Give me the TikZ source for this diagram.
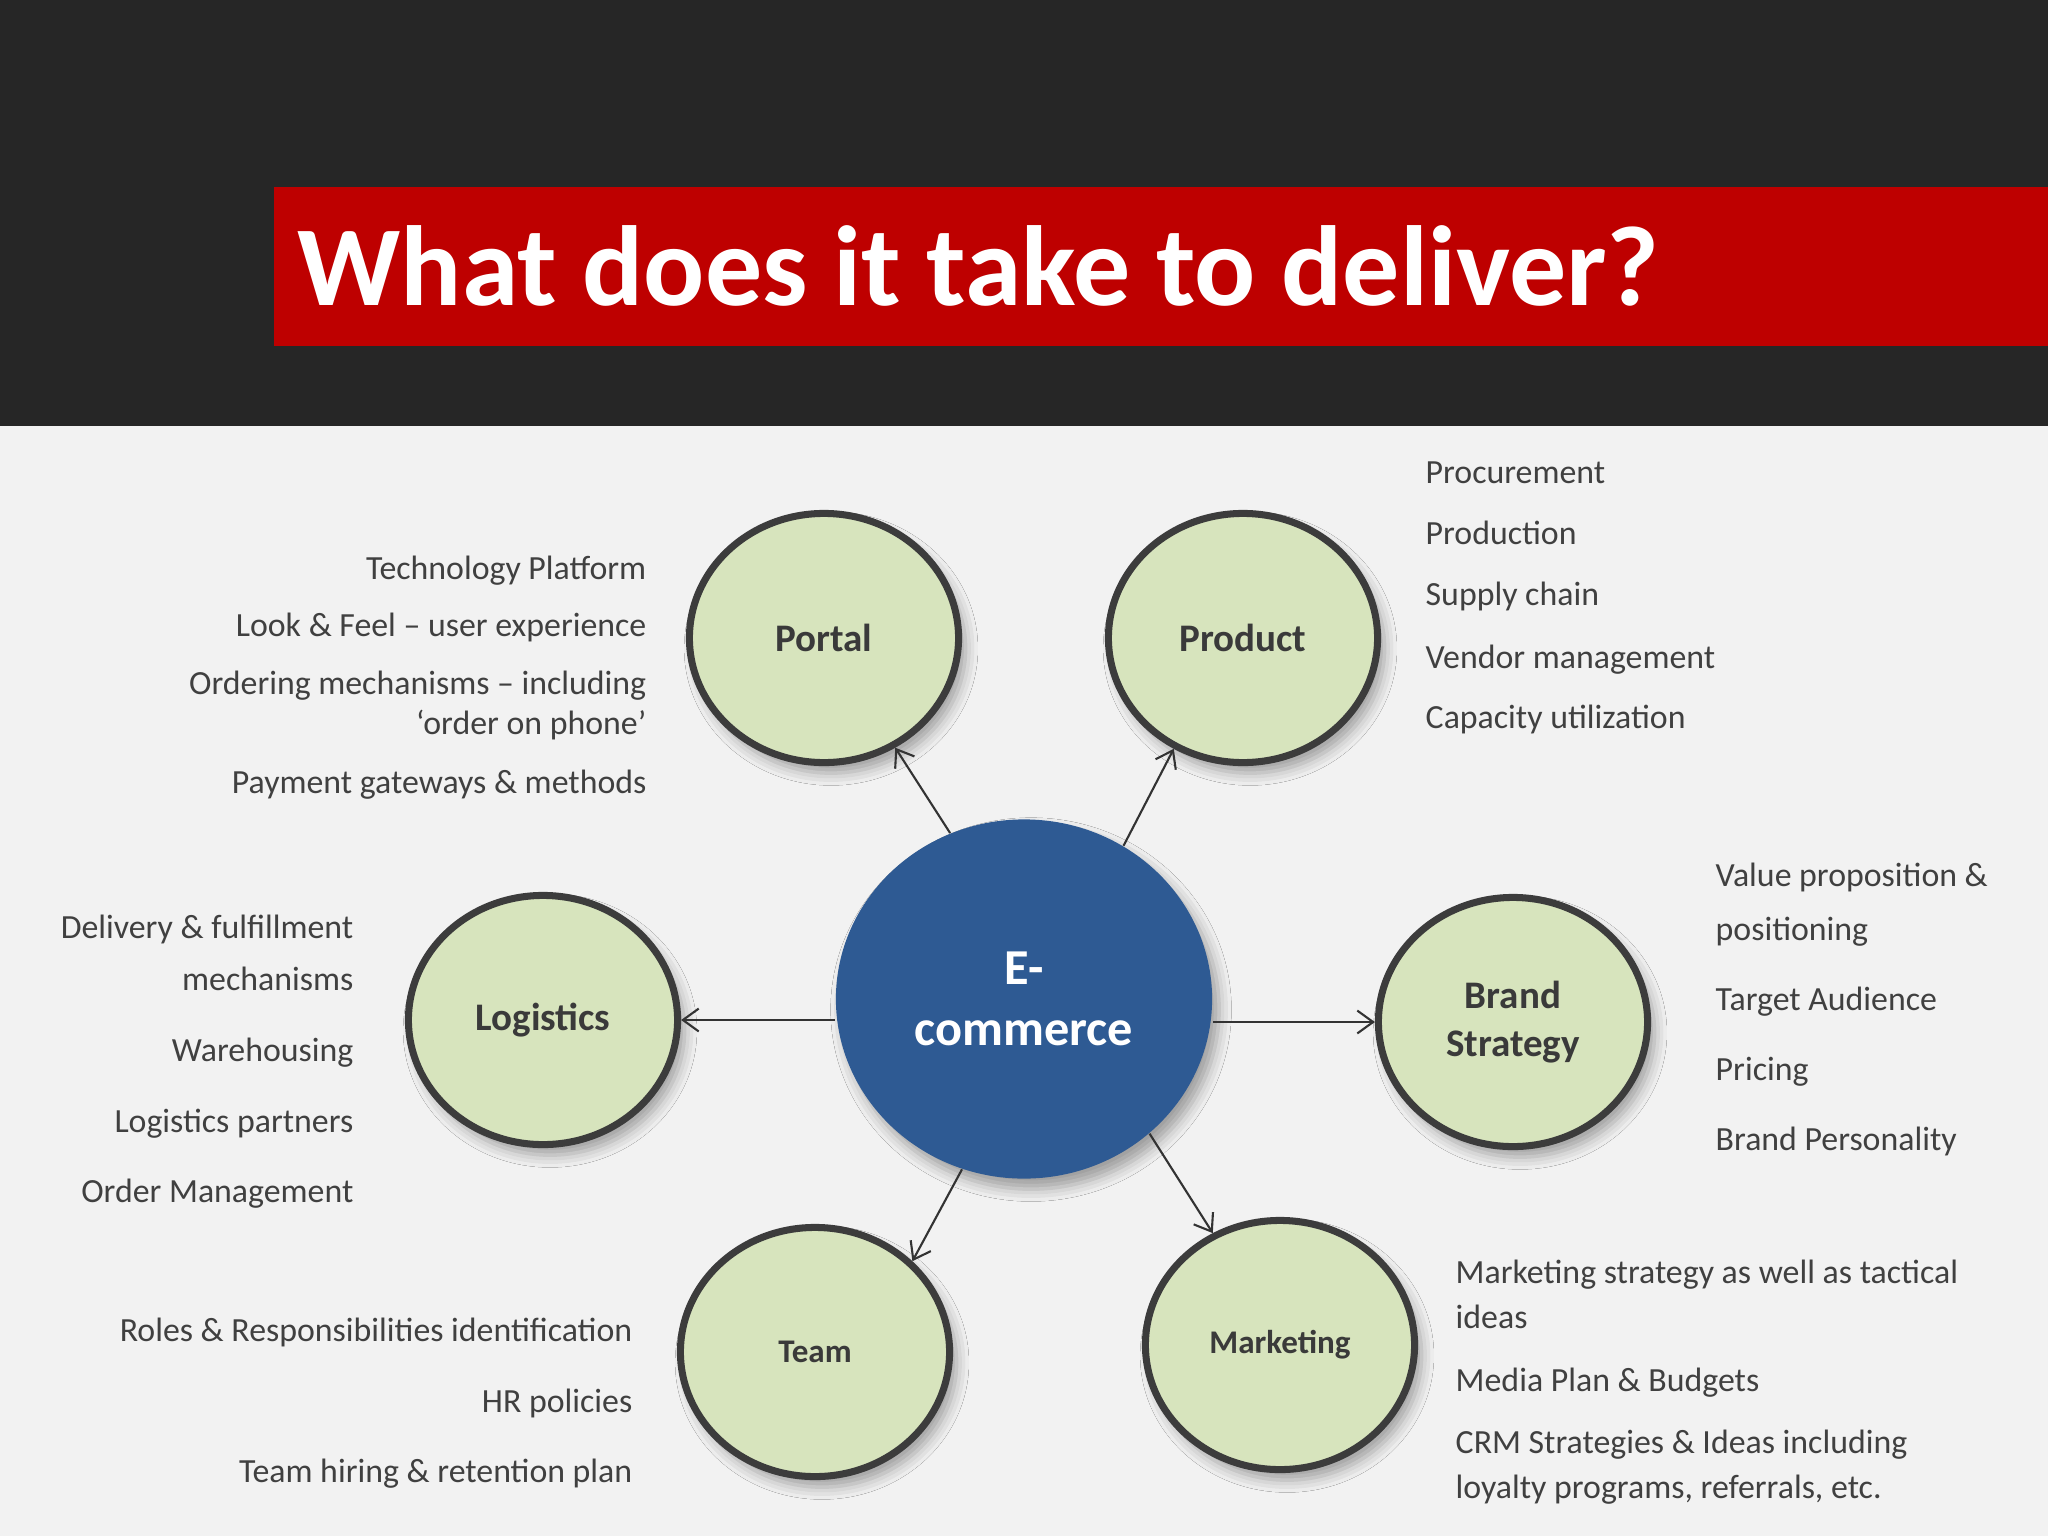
\documentclass[tikz,border=0pt]{standalone}
\usepackage{fontspec}
\setmainfont{Carlito}
\usetikzlibrary{arrows.meta,shapes.geometric,shadows.blur}
\definecolor{bandgray}{HTML}{262626}
\definecolor{titlered}{HTML}{BE0000}
\definecolor{bggray}{HTML}{F2F2F2}
\definecolor{satgreen}{HTML}{D7E4BD}
\definecolor{ringgray}{HTML}{3C3C3C}
\definecolor{ecblue}{HTML}{2E5A93}
\definecolor{textgray}{HTML}{404040}
\definecolor{labelgray}{HTML}{3A3A3A}
\definecolor{linegray}{HTML}{333333}
\begin{document}
\begin{tikzpicture}[x=0.01cm,y=-0.01cm,
  softshadow/.style={blur shadow={shadow xshift=2pt,shadow yshift=-3pt,shadow blur radius=3.5pt,shadow opacity=35}},
  sat/.style={ellipse,draw=ringgray,line width=2pt,fill=satgreen,
    minimum width=2.69cm,minimum height=2.49cm,inner sep=0pt,
    text=labelgray,align=center,softshadow,
    font=\fontsize{11.1pt}{13.7pt}\selectfont\bfseries},
  satsmall/.style={sat,font=\fontsize{9.4pt}{11.4pt}\selectfont\bfseries},
  hub/.style={ellipse,fill=ecblue,minimum width=3.76cm,minimum height=3.59cm,
    inner sep=0pt,text=white,align=center,softshadow,
    font=\fontsize{14.3pt}{17.35pt}\selectfont\bfseries},
  side/.style={inner sep=0pt,text=textgray,font=\fontsize{9.62pt}{11.5pt}\selectfont},
  lside/.style={side,anchor=base east},
  rside/.style={side,anchor=base west},
  conn/.style={draw=linegray,line width=0.6pt,-{Straight Barb[length=4.5pt,width=6.5pt]}}]
\useasboundingbox (0,0) rectangle (2048,1536);
% backgrounds
\fill[bggray] (0,0) rectangle (2048,1536);
\fill[bandgray] (0,0) rectangle (2048,426);
\fill[titlered] (274,187) rectangle (2048,346);
\node[anchor=base west,inner sep=0pt,text=white,font=\fontsize{32.4pt}{38pt}\selectfont\bfseries] (title) at (297,305) {What does it take to deliver?};
% nodes
\node[hub] (ec) at (1024,999) {E-\\commerce};
\node[sat] (portal) at (824,638) {Portal};
\node[sat] (product) at (1243,638) {Product};
\node[sat] (logi) at (543,1020) {Logistics};
\node[sat] (brand) at (1513,1022) {Brand\\Strategy};
\node[satsmall] (team) at (815,1352) {Team};
\node[satsmall] (mkt) at (1280,1345) {Marketing};
% connectors
\draw[conn] (ec.114) -- (portal.-57);
\draw[conn] (ec.57) -- (product.-122);
\draw[conn] (ec.west |- logi.east) -- (logi.east);
\draw[conn] (ec.east |- brand.west) -- (brand.west);
\draw[conn] (ec.-110) -- (team.43);
\draw[conn] (ec.-47) -- (mkt.121);
% Portal texts
\node[lside] (p1) at (647,579) {Technology Platform};
\node[lside] (p2) at (647,636) {Look \& Feel – user experience};
\node[lside] (p3) at (647,694) {Ordering mechanisms – including};
\node[lside] (p4) at (647,734) {‘order on phone’};
\node[lside] (p5) at (647,793) {Payment gateways \& methods};
% Product texts
\node[rside] (r1) at (1425,483) {Procurement};
\node[rside] (r2) at (1425,544) {Production};
\node[rside] (r3) at (1425,605) {Supply chain};
\node[rside] (r4) at (1425,668) {Vendor management};
\node[rside] (r5) at (1425,728) {Capacity utilization};
% Logistics texts
\node[lside] (l1) at (354,938) {Delivery \& fulfillment};
\node[lside] (l2) at (354,990) {mechanisms};
\node[lside] (l3) at (354,1061) {Warehousing};
\node[lside] (l4) at (354,1132) {Logistics partners};
\node[lside] (l5) at (354,1202) {Order Management};
% Brand texts
\node[rside] (b1) at (1715,886) {Value proposition \&};
\node[rside] (b2) at (1715,940) {positioning};
\node[rside] (b3) at (1715,1010) {Target Audience};
\node[rside] (b4) at (1715,1080) {Pricing};
\node[rside] (b5) at (1715,1150) {Brand Personality};
% Team texts
\node[lside] (t1) at (633,1341) {Roles \& Responsibilities identification};
\node[lside] (t2) at (633,1412) {HR policies};
\node[lside] (t3) at (633,1482) {Team hiring \& retention plan};
% Marketing texts
\node[rside] (m1) at (1455,1283) {Marketing strategy as well as tactical};
\node[rside] (m2) at (1455,1328) {ideas};
\node[rside] (m3) at (1455,1391) {Media Plan \& Budgets};
\node[rside] (m4) at (1455,1453) {CRM Strategies \& Ideas including};
\node[rside] (m5) at (1455,1498) {loyalty programs, referrals, etc.};
\end{tikzpicture}
\end{document}
